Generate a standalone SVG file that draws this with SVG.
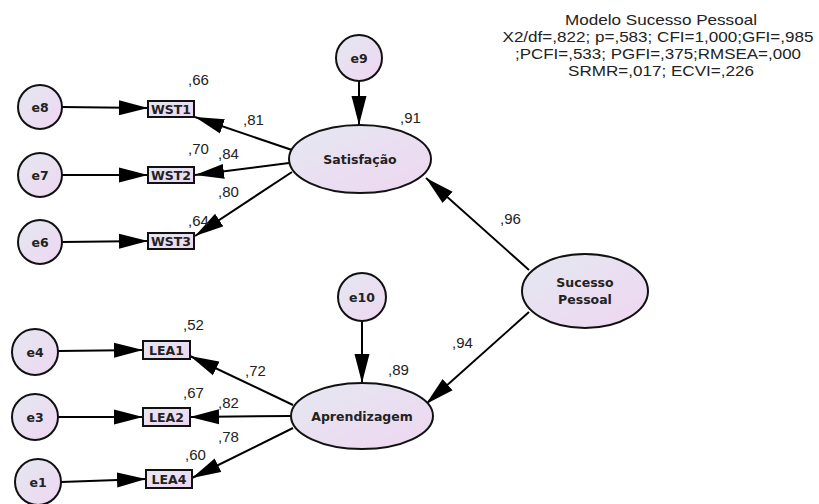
<svg xmlns="http://www.w3.org/2000/svg" width="819" height="504" viewBox="0 0 819 504">
<defs>
<linearGradient id="g" x1="0" y1="0" x2="1" y2="1">
<stop offset="0" stop-color="#e4e8f0"/>
<stop offset="1" stop-color="#efd6f2"/>
</linearGradient>
<marker id="ah" markerUnits="userSpaceOnUse" markerWidth="30" markerHeight="16" refX="29" refY="7.5" orient="auto" viewBox="0 0 30 15">
<path d="M0,0 L29,7.5 L0,15 z" fill="#000"/>
</marker>
<style>
.n{fill:url(#g);stroke:#111;stroke-width:2}
.t{font-family:"DejaVu Sans",sans-serif;font-weight:bold;font-size:12.5px;fill:#222;text-anchor:middle}
.v{font-family:"Liberation Sans",Arial,sans-serif;font-size:15px;fill:#222}
.h{font-family:"Liberation Sans",Arial,sans-serif;font-size:15px;fill:#222;text-anchor:middle}
.c{stroke:#000;stroke-width:2;fill:none;marker-end:url(#ah)}
</style>
</defs>
<rect width="819" height="504" fill="#fff"/>
<g id="connectors">
<line class="c" x1="62" y1="107" x2="148" y2="108"/>
<line class="c" x1="62" y1="175" x2="148" y2="175"/>
<line class="c" x1="62" y1="242" x2="148" y2="241"/>
<line class="c" x1="292" y1="150" x2="195" y2="117"/>
<line class="c" x1="289" y1="163" x2="195" y2="175"/>
<line class="c" x1="292" y1="172" x2="195" y2="236"/>
<line class="c" x1="359" y1="81" x2="359" y2="125"/>
<line class="c" x1="529" y1="270" x2="426" y2="178"/>
<line class="c" x1="529" y1="312" x2="426" y2="404"/>
<line class="c" x1="362" y1="321" x2="362" y2="383"/>
<line class="c" x1="293" y1="405" x2="190" y2="356"/>
<line class="c" x1="291" y1="416" x2="190" y2="417"/>
<line class="c" x1="293" y1="428" x2="192" y2="478"/>
<line class="c" x1="58" y1="351" x2="143" y2="350"/>
<line class="c" x1="58" y1="417" x2="143" y2="417"/>
<line class="c" x1="61" y1="482" x2="146" y2="479"/>
</g>
<g id="e8"><circle class="n" cx="40" cy="107" r="22"/><text class="t" x="40" y="111.5">e8</text></g>
<g id="e7"><circle class="n" cx="40" cy="175" r="22"/><text class="t" x="40" y="179.5">e7</text></g>
<g id="e6"><circle class="n" cx="40" cy="242" r="22"/><text class="t" x="40" y="246.5">e6</text></g>
<g id="e4"><circle class="n" cx="35" cy="352" r="23"/><text class="t" x="35" y="356.5">e4</text></g>
<g id="e3"><circle class="n" cx="35" cy="417" r="23"/><text class="t" x="35" y="421.5">e3</text></g>
<g id="e1"><circle class="n" cx="38" cy="482" r="23"/><text class="t" x="38" y="486.5">e1</text></g>
<g id="e9"><circle class="n" cx="359" cy="58" r="23"/><text class="t" x="359" y="62.5">e9</text></g>
<g id="e10"><circle class="n" cx="362" cy="297" r="24"/><text class="t" x="362" y="301.5">e10</text></g>
<g id="WST1"><rect class="n" x="148" y="101" width="46" height="16"/><text class="t" x="171" y="113.5">WST1</text></g>
<g id="WST2"><rect class="n" x="148" y="167" width="46" height="16"/><text class="t" x="171" y="179.5">WST2</text></g>
<g id="WST3"><rect class="n" x="148" y="233" width="46" height="16"/><text class="t" x="171" y="245.5">WST3</text></g>
<g id="LEA1"><rect class="n" x="143" y="341" width="47" height="18"/><text class="t" x="166.5" y="354.5">LEA1</text></g>
<g id="LEA2"><rect class="n" x="143" y="408" width="47" height="18"/><text class="t" x="166.5" y="421.5">LEA2</text></g>
<g id="LEA4"><rect class="n" x="146" y="470" width="46" height="18"/><text class="t" x="169" y="483.5">LEA4</text></g>
<g id="Satisfacao"><ellipse class="n" cx="360" cy="159" rx="71" ry="34"/><text class="t" x="360" y="163.5">Satisfação</text></g>
<g id="Aprendizagem"><ellipse class="n" cx="362" cy="416" rx="71" ry="33"/><text class="t" x="362" y="420.5">Aprendizagem</text></g>
<g id="SucessoPessoal"><ellipse class="n" cx="585" cy="291" rx="63" ry="37"/><text class="t" x="585" y="287">Sucesso</text><text class="t" x="585" y="304">Pessoal</text></g>
<g id="labels">
<text class="v" x="188" y="85">,66</text>
<text class="v" x="243" y="125">,81</text>
<text class="v" x="188" y="154">,70</text>
<text class="v" x="218" y="159">,84</text>
<text class="v" x="218" y="197">,80</text>
<text class="v" x="188" y="226">,64</text>
<text class="v" x="400" y="123">,91</text>
<text class="v" x="500" y="224">,96</text>
<text class="v" x="452" y="348">,94</text>
<text class="v" x="388" y="375">,89</text>
<text class="v" x="183" y="330">,52</text>
<text class="v" x="245" y="376">,72</text>
<text class="v" x="183" y="398">,67</text>
<text class="v" x="218" y="408">,82</text>
<text class="v" x="218" y="442">,78</text>
<text class="v" x="185" y="460">,60</text>
</g>
<g id="title">
<text class="h" x="661" y="25" textLength="192" lengthAdjust="spacingAndGlyphs">Modelo Sucesso Pessoal</text>
<text class="h" x="658" y="42" textLength="311" lengthAdjust="spacingAndGlyphs">X2/df=,822; p=,583; CFI=1,000;GFI=,985</text>
<text class="h" x="658" y="59" textLength="286" lengthAdjust="spacingAndGlyphs">;PCFI=,533; PGFI=,375;RMSEA=,000</text>
<text class="h" x="661" y="76" textLength="186" lengthAdjust="spacingAndGlyphs">SRMR=,017; ECVI=,226</text>
</g>
</svg>
